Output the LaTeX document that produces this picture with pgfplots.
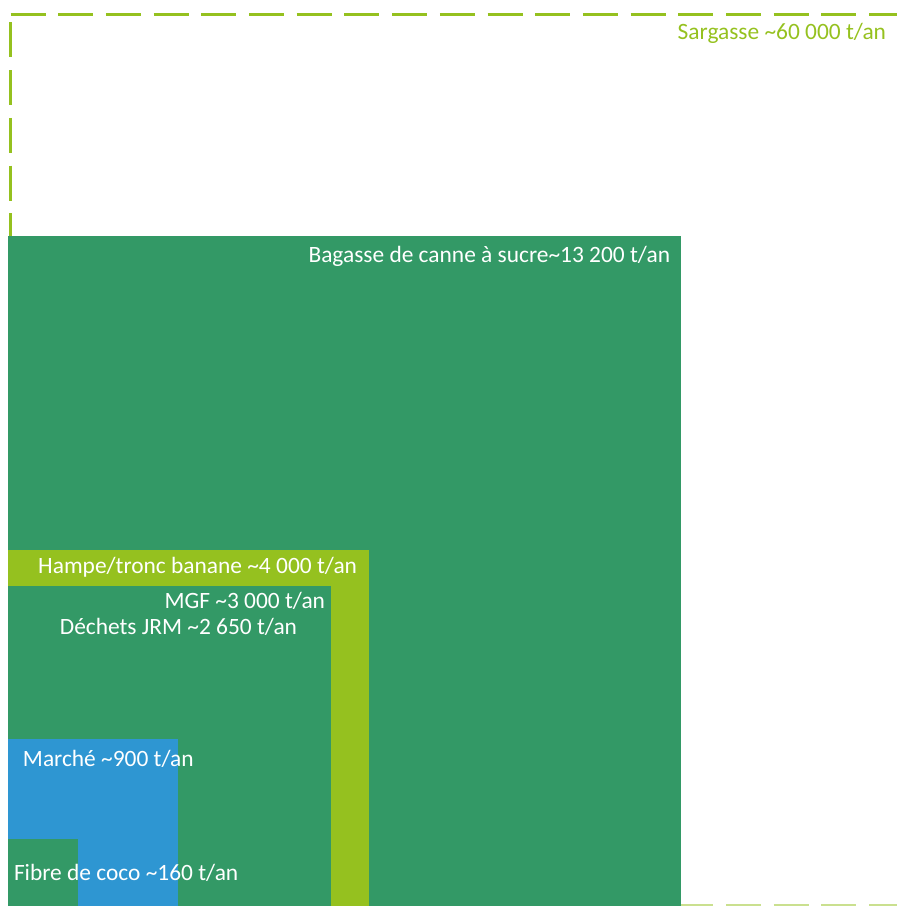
\documentclass[border=0pt]{standalone}
\usepackage{pgfplots}
\pgfplotsset{compat=1.18}
\usepackage{fontspec}
\setmainfont{Carlito}
\definecolor{cgreen}{RGB}{51,153,102}
\definecolor{clime}{RGB}{149,193,31}
\definecolor{cblue}{RGB}{46,150,210}
\tikzset{lbl/.style={font=\fontsize{11.7}{14}\selectfont, inner sep=0pt, outer sep=0pt}}
\begin{document}
\begin{tikzpicture}
\begin{axis}[
  hide axis, scale only axis,
  width=448.5pt, height=453pt,
  xmin=0, xmax=897, ymin=0, ymax=906,
  clip=true,
]
% invisible frame for the bounding box
\addplot[draw=none, forget plot] coordinates {(0,0) (897,906)};
% Sargasse outline (dashed), top, left, bottom
\addplot[clime, line width=1.7pt, dash pattern=on 17.5pt off 6.35pt] coordinates {(10.5,891.5) (905,891.5)};
\addplot[clime, line width=1.7pt, dash pattern=on 17.5pt off 6.35pt, dash phase=19.85pt] coordinates {(10.5,891.5) (10.5,0)};
\addplot[clime!50, line width=1.7pt, dash pattern=on 17.5pt off 6.35pt] coordinates {(10.5,0) (905,0)};
% Bagasse
\addplot[fill=cgreen, draw=none] coordinates {(8,0) (681,0) (681,670) (8,670)} --cycle;
% Hampe
\addplot[fill=clime, draw=none] coordinates {(8,0) (368.5,0) (368.5,356) (8,356)} --cycle;
% MGF / JRM
\addplot[fill=cgreen, draw=none] coordinates {(8,0) (331,0) (331,319.5) (8,319.5)} --cycle;
% Marche
\addplot[fill=cblue, draw=none] coordinates {(8,0) (177.5,0) (177.5,166.5) (8,166.5)} --cycle;
% Fibre de coco
\addplot[fill=cgreen, draw=none] coordinates {(8,0) (78,0) (78,67) (8,67)} --cycle;
% labels
\node[lbl, anchor=east, text=clime] at (axis cs:886,873) {Sargasse \textasciitilde60 000 t/an};
\node[lbl, anchor=east, text=white] at (axis cs:670,650) {Bagasse de canne à sucre\textasciitilde13 200 t/an};
\node[lbl, anchor=east, text=white] at (axis cs:357,339) {Hampe/tronc banane \textasciitilde4 000 t/an};
\node[lbl, anchor=east, text=white] at (axis cs:325,305.5) {MGF \textasciitilde3 000 t/an};
\node[lbl, anchor=east, text=white] at (axis cs:297,279.5) {Déchets JRM \textasciitilde2 650 t/an};
\node[lbl, anchor=west, text=white] at (axis cs:23,147) {Marché \textasciitilde900 t/an};
\node[lbl, anchor=west, text=white] at (axis cs:14,33) {Fibre de coco \textasciitilde160 t/an};
\end{axis}
\end{tikzpicture}
\end{document}
